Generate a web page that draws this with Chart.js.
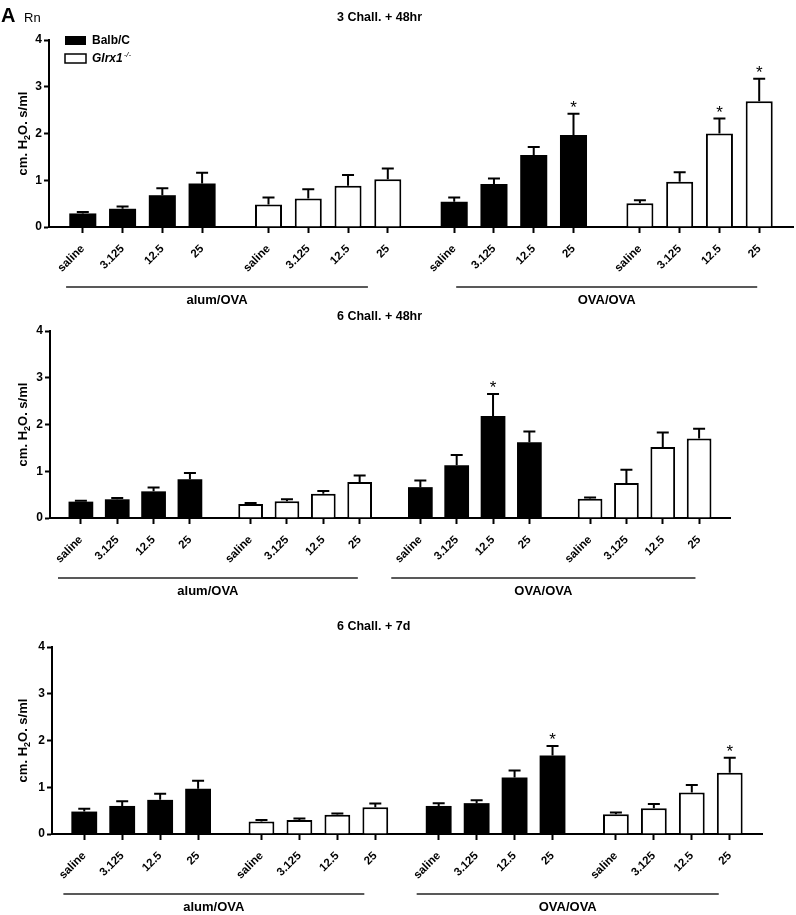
<!DOCTYPE html>
<html>
<head>
<meta charset="utf-8">
<script src="https://cdn.jsdelivr.net/npm/chart.js@4.4.1/dist/chart.umd.min.js"></script>
<style>
  html, body { margin: 0; background: #fff; }
  #wrap { position: relative; width: 796px; height: 915px; }
  canvas { position: absolute; left: 0; }
</style>
</head>
<body>
<div id="wrap">
  <canvas id="p1" width="796" height="305" style="top:0"></canvas>
  <canvas id="p2" width="796" height="305" style="top:305px"></canvas>
  <canvas id="p3" width="796" height="305" style="top:610px"></canvas>
</div>
<script>
'use strict';

// ---------------------------------------------------------------- data
const doses = ['saline', '3.125', '12.5', '25'];
const protocols = ['alum/OVA', 'OVA/OVA'];
const yTicks = [0, 1, 2, 3, 4];

// each series: 4 alum/OVA doses then 4 OVA/OVA doses (mean, upper SEM)
const p1Title = '3 Chall. + 48hr';
const p1Balb = [0.29, 0.39, 0.68, 0.93, 0.54, 0.92, 1.54, 1.97];
const p1BalbSem = [0.03, 0.05, 0.15, 0.23, 0.09, 0.12, 0.17, 0.45];
const p1Glrx = [0.48, 0.61, 0.88, 1.02, 0.51, 0.97, 2.00, 2.69];
const p1GlrxSem = [0.15, 0.20, 0.23, 0.23, 0.06, 0.20, 0.32, 0.48];
const p1BalbStar = [7];
const p1GlrxStar = [6, 7];

const p2Title = '6 Chall. + 48hr';
const p2Balb = [0.35, 0.40, 0.57, 0.83, 0.66, 1.13, 2.18, 1.62];
const p2BalbSem = [0.02, 0.03, 0.08, 0.13, 0.14, 0.22, 0.47, 0.23];
const p2Glrx = [0.30, 0.36, 0.52, 0.77, 0.41, 0.75, 1.52, 1.70];
const p2GlrxSem = [0.02, 0.04, 0.06, 0.14, 0.03, 0.28, 0.31, 0.21];
const p2BalbStar = [6];
const p2GlrxStar = [];

const p3Title = '6 Chall. + 7d';
const p3Balb = [0.48, 0.60, 0.73, 0.97, 0.60, 0.66, 1.21, 1.68];
const p3BalbSem = [0.06, 0.10, 0.13, 0.17, 0.06, 0.06, 0.15, 0.20];
const p3Glrx = [0.27, 0.30, 0.41, 0.57, 0.42, 0.55, 0.89, 1.31];
const p3GlrxSem = [0.03, 0.03, 0.03, 0.08, 0.04, 0.09, 0.16, 0.32];
const p3BalbStar = [7];
const p3GlrxStar = [7];

// ---------------------------------------------------------------- layout
const FONT = '"Liberation Sans", Arial, sans-serif';
const W = 796, H = 305;
const GROUP_STEP = 4.67;           // 4 bars + gap, in bar units
const pos = (g, i) => g * GROUP_STEP + i;
// column order: Balb alum, Glrx alum, Balb OVA, Glrx OVA
const tickPos = [0, 1, 2, 3].flatMap((g) => doses.map((_, i) => pos(g, i)));

// brackets: start/end offsets (bar units) from the first and last bar of a protocol
const panels = [
  { id: 'p1', title: p1Title, titleY: 18, legend: true,
    balb: p1Balb, balbSem: p1BalbSem, balbStar: p1BalbStar,
    glrx: p1Glrx, glrxSem: p1GlrxSem, glrxStar: p1GlrxStar,
    brackets: [[-0.42, -0.5], [0.05, -0.05]],
    area: { left: 49, right: 793, top: 40, bottom: 227 } },
  { id: 'p2', title: p2Title, titleY: 12,
    balb: p2Balb, balbSem: p2BalbSem, balbStar: p2BalbStar,
    glrx: p2Glrx, glrxSem: p2GlrxSem, glrxStar: p2GlrxStar,
    brackets: [[-0.63, -0.05], [-0.8, -0.1]],
    area: { left: 50, right: 730, top: 26, bottom: 213 } },
  { id: 'p3', title: p3Title, titleY: 17,
    balb: p3Balb, balbSem: p3BalbSem, balbStar: p3BalbStar,
    glrx: p3Glrx, glrxSem: p3GlrxSem, glrxStar: p3GlrxStar,
    brackets: [[-0.55, -0.29], [-0.58, -0.29]],
    area: { left: 52, right: 762, top: 37, bottom: 224 } },
];

// place a series' 8 values into its two columns
const toPoints = (vals, col) => vals.map((v, k) => ({ x: pos(k < 4 ? col : col + 2, k % 4), y: v }));

// ---------------------------------------------------------------- decorations
const decor = {
  id: 'decor',
  afterDatasetsDraw(chart) {
    const { ctx, scales: { y } } = chart;
    ctx.save();
    ctx.strokeStyle = '#000';
    ctx.fillStyle = '#000';
    ctx.lineWidth = 2;
    chart.data.datasets.forEach((ds, di) => {
      chart.getDatasetMeta(di).data.forEach((bar, k) => {
        const cap = y.getPixelForValue(ds.data[k].y + ds.sem[k]);
        ctx.beginPath();
        ctx.moveTo(bar.x, bar.y);
        ctx.lineTo(bar.x, cap);
        ctx.moveTo(bar.x - 6, cap);
        ctx.lineTo(bar.x + 6, cap);
        ctx.stroke();
        if (ds.stars.includes(k)) {
          ctx.font = `17px ${FONT}`;
          ctx.textAlign = 'center';
          ctx.textBaseline = 'alphabetic';
          ctx.fillText('*', bar.x, cap - 1);
        }
      });
    });
    ctx.restore();
  },
  afterDraw(chart, args, o) {
    const { ctx, chartArea: a, scales: { x } } = chart;
    ctx.save();
    ctx.fillStyle = '#000';
    ctx.strokeStyle = '#222';

    // panel title
    ctx.font = `bold 12.5px ${FONT}`;
    ctx.textAlign = 'left';
    ctx.textBaseline = 'middle';
    ctx.fillText(o.title, 337, o.titleY);

    // protocol brackets
    protocols.forEach((name, j) => {
      const [s, e] = o.brackets[j];
      const x0 = x.getPixelForValue(pos(2 * j, 0) + s);
      const x1 = x.getPixelForValue(pos(2 * j + 1, 3) + e);
      ctx.lineWidth = 1.5;
      ctx.beginPath();
      ctx.moveTo(x0, a.bottom + 60);
      ctx.lineTo(x1, a.bottom + 60);
      ctx.stroke();
      ctx.font = `bold 13px ${FONT}`;
      ctx.textAlign = 'center';
      ctx.fillText(name, (x0 + x1) / 2, a.bottom + 73);
    });

    // y axis title with subscript
    const parts = [['cm. H', 13, 0], ['2', 9, 3], ['O. s/ml', 13, 0]];
    ctx.translate(22, (a.top + a.bottom) / 2);
    ctx.rotate(-Math.PI / 2);
    ctx.textAlign = 'left';
    ctx.textBaseline = 'alphabetic';
    let total = 0;
    parts.forEach(([t, s]) => { ctx.font = `bold ${s}px ${FONT}`; total += ctx.measureText(t).width; });
    let cx = -total / 2;
    parts.forEach(([t, s, dy]) => {
      ctx.font = `bold ${s}px ${FONT}`;
      ctx.fillText(t, cx, 5 + dy);
      cx += ctx.measureText(t).width;
    });
    ctx.setTransform(1, 0, 0, 1, 0, 0);

    if (o.legend) {
      ctx.font = `bold 20px ${FONT}`;
      ctx.textBaseline = 'middle';
      ctx.fillText('A', 1, 16);
      ctx.font = `13px ${FONT}`;
      ctx.fillText('Rn', 24, 18);

      const lx = a.left + 16;
      ctx.fillRect(lx, 36, 21, 9);
      ctx.lineWidth = 1.5;
      ctx.strokeStyle = '#000';
      ctx.strokeRect(lx, 54, 21, 9);
      ctx.font = `bold 12px ${FONT}`;
      ctx.fillText('Balb/C', lx + 27, 41);
      ctx.font = `italic bold 12px ${FONT}`;
      ctx.fillText('Glrx1', lx + 27, 59);
      const w = ctx.measureText('Glrx1').width;
      ctx.font = `italic 8px ${FONT}`;
      ctx.fillText('-/-', lx + 28 + w, 55);
    }
    ctx.restore();
  },
};

// ---------------------------------------------------------------- charts
function axisStyle(len) {
  return {
    grid: { offset: false, drawOnChartArea: false, drawTicks: true, tickLength: len, tickWidth: 2, tickColor: '#000' },
    border: { display: true, color: '#000', width: 2 },
  };
}

panels.forEach((p) => {
  new Chart(document.getElementById(p.id), {
    type: 'bar',
    data: {
      datasets: [
        { label: 'Balb/C', data: toPoints(p.balb, 0), sem: p.balbSem, stars: p.balbStar,
          backgroundColor: '#000', borderColor: '#000', borderWidth: 0 },
        { label: 'Glrx1-/-', data: toPoints(p.glrx, 1), sem: p.glrxSem, stars: p.glrxStar,
          backgroundColor: '#fff', borderColor: '#000', borderWidth: 2 },
      ],
    },
    options: {
      responsive: false, animation: false, events: [],
      grouped: false, barPercentage: 0.68, categoryPercentage: 1,
      layout: { padding: { top: p.area.top, right: W - p.area.right, left: 0, bottom: 0 } },
      plugins: {
        legend: { display: false }, tooltip: { enabled: false },
        decor: { title: p.title, titleY: p.titleY, legend: !!p.legend, brackets: p.brackets },
      },
      scales: {
        x: {
          type: 'linear', offset: false, min: -0.85, max: pos(3, 3) + 0.85,
          afterBuildTicks: (s) => { s.ticks = tickPos.map((v) => ({ value: v })); },
          afterFit: (s) => { s.height = H - p.area.bottom; },
          ...axisStyle(6),
          ticks: {
            autoSkip: false, minRotation: 45, maxRotation: 45, padding: 9, color: '#000',
            font: { family: FONT, size: 11.5, weight: 'bold' },
            callback: (v, i) => doses[i % doses.length],
          },
        },
        y: {
          min: 0, max: 4,
          afterBuildTicks: (s) => { s.ticks = yTicks.map((v) => ({ value: v })); },
          afterFit: (s) => { s.width = p.area.left; },
          ...axisStyle(5),
          ticks: { padding: 2, color: '#000', font: { family: FONT, size: 12, weight: 'bold' } },
        },
      },
    },
    plugins: [decor],
  });
});
</script>
</body>
</html>
